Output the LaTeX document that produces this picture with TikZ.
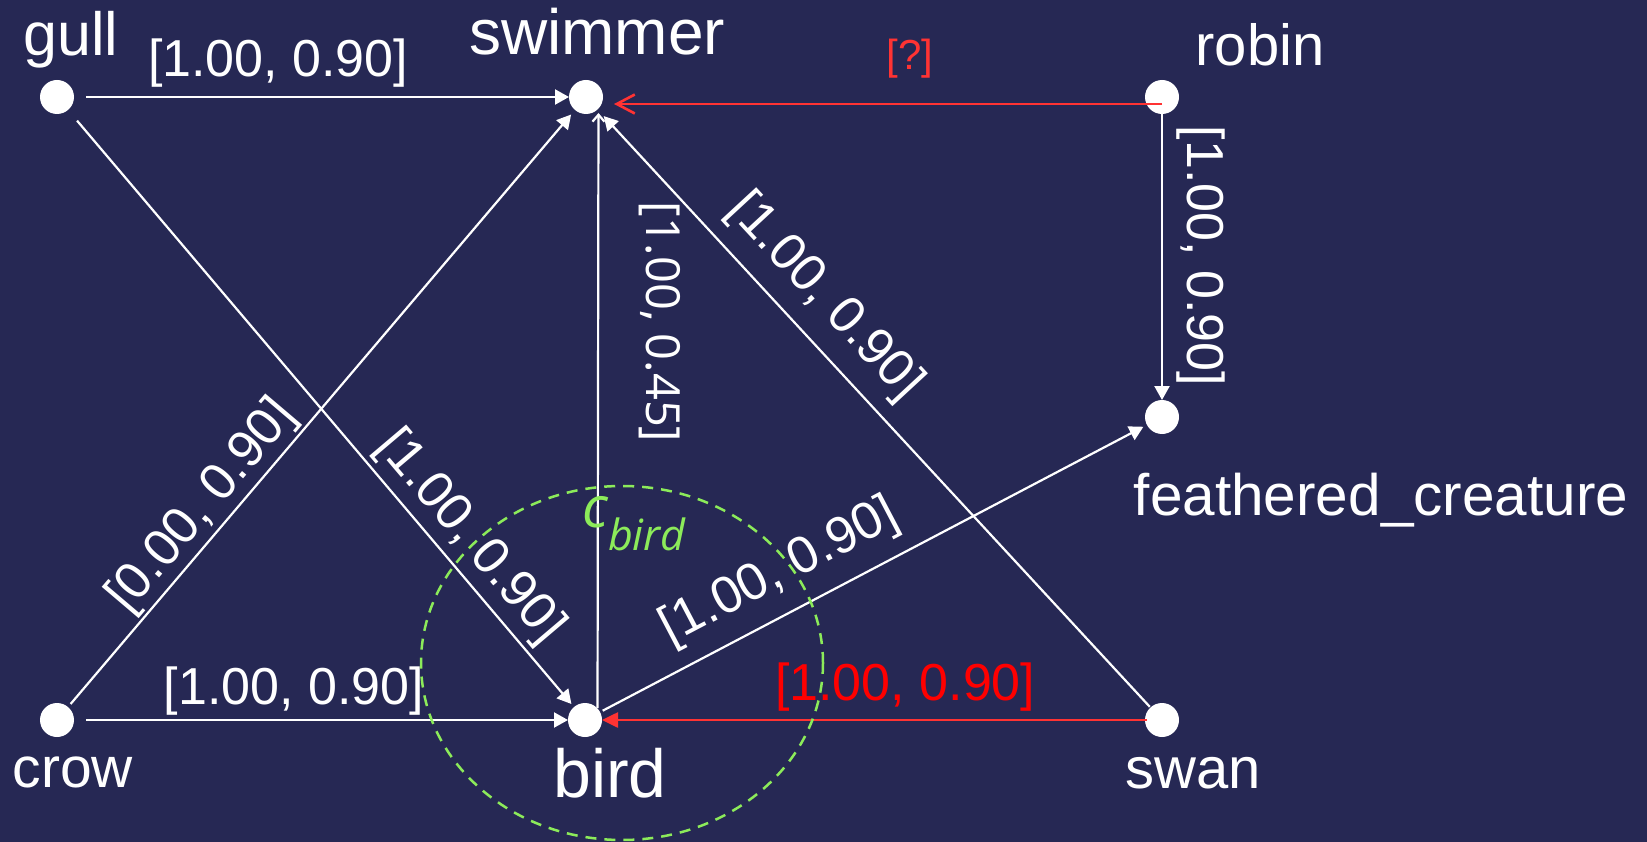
\documentclass[tikz,border=0pt]{standalone}
\usepackage{fontspec}
\setmainfont{Liberation Sans}
\newfontfamily\osans{Open Sans}
\usetikzlibrary{arrows.meta}
\definecolor{bg}{HTML}{262854}
\definecolor{cgreen}{RGB}{140,235,90}
\definecolor{ered}{RGB}{255,51,51}
\begin{document}
\begin{tikzpicture}[x=1pt,y=-1pt,
  dot/.style={circle,fill=white,minimum size=34pt,inner sep=0pt},
  nlab/.style={text=white,inner sep=0pt,anchor=base},
  elab/.style={text=white,inner sep=0pt,font=\fontsize{52}{52}\selectfont},
  wedge/.style={draw=white,line width=2.2pt,-{Triangle[length=14pt,width=15pt]}},
  redge/.style={draw=ered,line width=2.6pt},
]
\fill[bg] (0,0) rectangle (1647,842);
\useasboundingbox (0,0) rectangle (1647,842);

% dots
\node[dot] (gull) at (57,97) {};
\node[dot] (swimmer) at (586,97) {};
\node[dot] (robin) at (1162,97) {};
\node[dot] (feathered) at (1162,417) {};
\node[dot] (crow) at (57,720) {};
\node[dot] (bird) at (585,720) {};
\node[dot] (swan) at (1162,720) {};

% dot labels
\node[nlab,font=\fontsize{61}{61}\selectfont] (gullL) at (71,56) {gull};
\node[nlab,font=\fontsize{64}{64}\selectfont] (swimmerL) at (597,55) {swimmer};
\node[nlab,font=\fontsize{58}{58}\selectfont] (robinL) at (1260,66) {robin};
\node[nlab,font=\fontsize{58.5}{58.5}\selectfont] (featheredL) at (1381,515) {feathered\_creature};
\node[nlab,font=\fontsize{57}{57}\selectfont] (crowL) at (73,787) {crow};
\node[nlab,font=\fontsize{68}{68}\selectfont] (birdL) at (610,797) {bird};
\node[nlab,font=\fontsize{58}{58}\selectfont] (swanL) at (1193,788) {swan};

% white edges
\draw[wedge, shorten <=29pt, shorten >=17pt] (gull.center) -- (swimmer.center)
  node[elab, pos=0.418, above=9pt] (l1) {[1.00, 0.90]};
\draw[wedge, shorten <=29pt, shorten >=17pt] (crow.center) -- (bird.center)
  node[elab, pos=0.449, above=4pt] (l2) {[1.00, 0.90]};
\draw[wedge, shorten <=31pt, shorten >=21pt] (gull.center) -- (bird.center)
  node[elab, pos=0.738, sloped, above=5pt] (l3) {[1.00, 0.90]};
\draw[wedge, shorten <=21pt, shorten >=23pt] (crow.center) -- (swimmer.center)
  node[elab, pos=0.3145, sloped, above=2pt] (l4) {[0.00, 0.90]};
\draw[wedge, shorten <=20pt, shorten >=21pt] (bird.center) -- (feathered.center)
  node[elab, pos=0.37, sloped, above=15pt] (l5) {[1.00, 0.90]};
\draw[wedge, shorten <=18pt, shorten >=26pt] (swan.center) -- (swimmer.center)
  node[elab, pos=0.636, sloped, above=14pt] (l6) {[1.00, 0.90]};
\draw[wedge, shorten <=16pt, shorten >=17pt] (robin.center) -- (feathered.center);
\node[elab, rotate=-90] (l7) at (1201,256) {[1.00, 0.90]};
\draw[draw=white, line width=2.2pt, -{Straight Barb[length=7pt,width=12pt]}, shorten <=12pt, shorten >=16pt]
  ([xshift=12.5pt]bird.center) -- ([xshift=12.5pt]swimmer.center);
\node[text=white, inner sep=0pt, rotate=-90, font=\osans\fontsize{47}{47}\selectfont] (l8) at (659.5,322) {[1.00, 0.45]};

% red edges
\draw[redge, -{Straight Barb[length=18pt,width=19pt]}, shorten >=28pt]
  ([yshift=-7pt]robin.center) -- ([yshift=-7pt]swimmer.center)
  node[pos=0.4375, above=24pt, inner sep=0pt, text=ered, font=\fontsize{42}{42}\selectfont] (l9) {[?]};
\draw[redge, -{Triangle[length=16pt,width=15pt]}, shorten <=15pt, shorten >=17pt]
  (swan.center) -- (bird.center)
  node[pos=0.445, above=7pt, inner sep=0pt, text=red, font=\fontsize{52}{52}\selectfont] (l10) {[1.00, 0.90]};

% c_bird region
\draw[cgreen, line width=2.5pt, dash pattern=on 11pt off 8pt] (622,663) ellipse [x radius=201pt, y radius=177pt];
\node[text=cgreen, inner sep=0pt, anchor=base west, font=\osans\itshape\fontsize{57}{57}\selectfont] (cbird) at (582,527)
  {c\raisebox{-23pt}{\fontsize{43}{43}\selectfont bird}};
\end{tikzpicture}
\end{document}
